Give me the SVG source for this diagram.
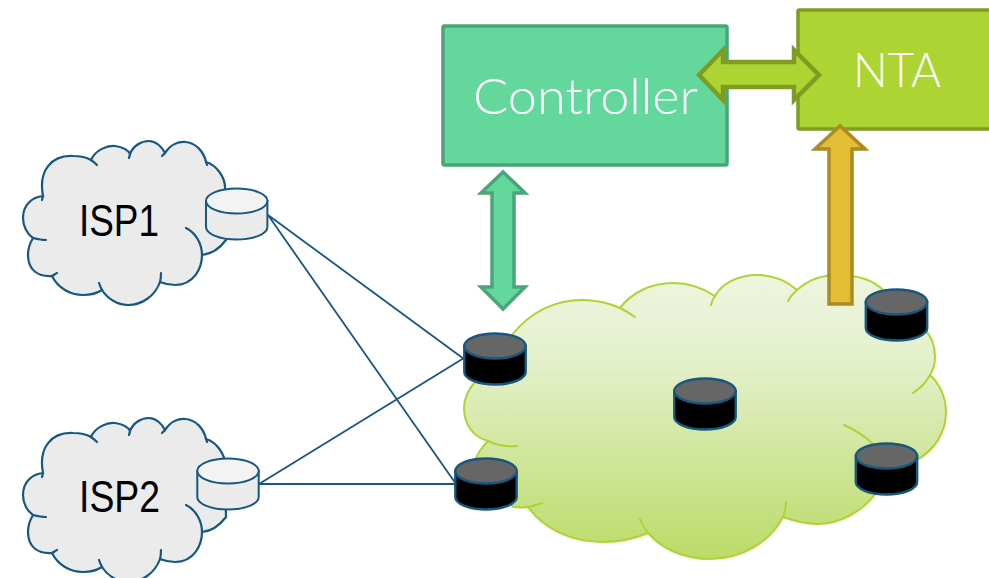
<svg xmlns="http://www.w3.org/2000/svg" xmlns:xlink="http://www.w3.org/1999/xlink" width="989" height="578" viewBox="0 0 989 578">
<style>
.isp{fill:#ebebeb;stroke:#17587f;stroke-width:2.2}
.hook{fill:none;stroke-linecap:round}
.isph{stroke:#17587f;stroke-width:2.2}
.bigc{fill:url(#cg);stroke:#aed433;stroke-width:2}
.bigh{stroke:#aed433;stroke-width:2}
.lab{font-family:"Liberation Sans",Arial,sans-serif;font-size:44px;fill:#000}
.wht{font-family:"Lato","Open Sans",sans-serif;font-weight:300;fill:#fff}
.cb{fill:#000;stroke:#17587f;stroke-width:2.4}
.ct{fill:#666;stroke:#17587f;stroke-width:2.4}
.lb{fill:#ebebeb;stroke:#17587f;stroke-width:2}
.lt{fill:#f3f3f3;stroke:#17587f;stroke-width:2}
.ln{stroke:#17587f;stroke-width:1.8;fill:none}
</style>
<defs>
<linearGradient id="cg" x1="0" y1="0" x2="0" y2="1"><stop offset="0" stop-color="#eef5e0"/><stop offset="0.3" stop-color="#e4f0cc"/><stop offset="1" stop-color="#bbdb68"/></linearGradient>
<g id="ispcloud">
<path class="isp" d="M43,196C38,170 52,155 73,156C80,156 86,157 91,160C95,150 108,145 115,146C122,147 128,150 130,154C133,146 141,141 149,141C156,141 162,147 165,153C170,145 178,141 186,142C196,143 204,152 206,162C216,165 226,177 225,190L226,240C220,248 212,254 202,255C202,268 194,285 175,285C170,285 165,284 160,282C155,296 142,305 128,305C117,305 107,298 102,290C96,294 90,295 83,295C70,295 58,288 52,276C38,277 28,270 28,255C28,248 30,243 33,238C27,234 23,226 23,218C23,205 32,197 43,196Z"/>
<path class="hook isph" d="M91,160Q94,162 97,165M130,154L129,158M165,153L162,156M206,162L207,165M186,228C196,233 202,244 202,255M161,273C161,276 161,279 160,282M99,283C100,286 101,288 102,290M57,273C55,274 54,275 52,276M46,240C41,240 37,239 33,238M43,196L42,200"/>
</g>
<g id="dark"><path class="cb" d="M-30.7,0V26A30.7,12.5 0 0 0 30.7,26V0Z"/><ellipse class="ct" cx="0" cy="0" rx="30.7" ry="12.5"/></g>
<g id="light"><path class="lb" d="M-30.7,0V26A30.7,12.5 0 0 0 30.7,26V0Z"/><ellipse class="lt" cx="0" cy="0" rx="30.7" ry="12.5"/></g>
</defs>
<rect width="989" height="578" fill="#fff"/>
<g id="core-cloud">
<path class="bigc" d="M512,335C530,312 555,300 582,300C596,300 609,303 620,308C632,292 652,283 673,283C689,283 703,288 715,296C722,283 739,275 757,275C773,275 787,281 797,290C808,280 822,275 837,275C857,275 873,280 883,290L925,330C932,337 935,347 935,357C935,364 933,370 930,375C940,384 946,398 946,412C946,433 934,450 917,460L877,492C862,512 840,524 817,524C805,524 794,521 783,517C770,542 742,559 710,559C684,559 662,549 648,533C634,539 619,542 603,542C570,542 543,528 528,507C523,508 518,507 513,507L475,460C478,453 482,447 488,441C473,437 464,424 464,408C464,399 468,390 475,382Z"/>
<path class="hook bigh" d="M620,308Q628,312 635,317M715,296Q712,300 711,305M797,290Q791,295 788,301M930,375Q924,386 913,393M844,425Q860,432 872,443M786,502Q786,510 783,517M640,519Q643,527 648,533M542,503Q535,506 528,507M517,446C505,447 496,445 488,441"/>
</g>
<g id="isp1"><use xlink:href="#ispcloud" href="#ispcloud"/><text class="lab" x="79" y="235.500" textLength="80" lengthAdjust="spacingAndGlyphs">ISP1</text></g>
<g id="isp2"><use xlink:href="#ispcloud" href="#ispcloud" transform="translate(0,277)"/><text class="lab" x="79" y="512" textLength="81" lengthAdjust="spacingAndGlyphs">ISP2</text></g>
<g id="connectors">
<path class="ln" d="M268,215L464,359M268,215L456,484M259,484L464,358M259,484L456,484"/>
</g>
<g id="r-isp1"><use xlink:href="#light" href="#light" x="236.700" y="201"/></g>
<g id="r-isp2"><use xlink:href="#light" href="#light" x="228" y="471"/></g>
<g id="r1"><use xlink:href="#dark" href="#dark" x="495" y="346"/></g>
<g id="r2"><use xlink:href="#dark" href="#dark" x="486" y="471"/></g>
<g id="r3"><use xlink:href="#dark" href="#dark" x="705" y="391"/></g>
<g id="r4"><use xlink:href="#dark" href="#dark" x="896.500" y="302"/></g>
<g id="r5"><use xlink:href="#dark" href="#dark" x="886.500" y="456"/></g>
<g id="controller">
<rect x="443" y="26" width="284" height="139" rx="1.500" fill="#64d79c" stroke="#4aa57a" stroke-width="3.500"/>
<text class="wht" x="473" y="114" font-size="50" textLength="225" lengthAdjust="spacingAndGlyphs">Controller</text>
</g>
<g id="nta">
<rect x="798" y="10" width="200" height="119" rx="1.500" fill="#acd433" stroke="#7f9c21" stroke-width="3.500"/>
<text class="wht" x="853" y="87" font-size="47" textLength="88" lengthAdjust="spacingAndGlyphs">NTA</text>
</g>
<g id="arrows">
<path d="M699,75L723,50V62H794V50L819,75L794,100V87H723V100Z" fill="#acd433" stroke="#7f9c21" stroke-width="4.500" stroke-linejoin="miter"/>
<path d="M840,126L815,149H829V304H852V149H865Z" fill="#e3bd33" stroke="#ab8b22" stroke-width="3.500"/>
<path d="M503,172L481,193H492V287H481L503,309L525,287H514V193H525Z" fill="#64d79c" stroke="#4aa57a" stroke-width="3.500"/>
</g>
</svg>
